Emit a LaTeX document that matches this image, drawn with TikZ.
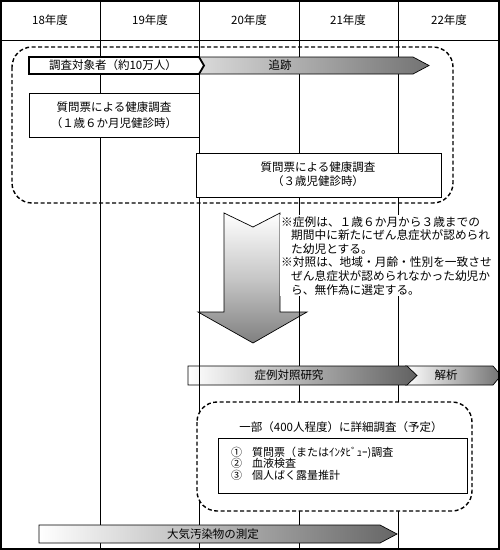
\documentclass[tikz,border=0pt]{standalone}
\usepackage{fontspec}
\setmainfont{Noto Sans CJK JP}
\begin{document}
\begin{tikzpicture}[x=1pt,y=-1pt,
  every node/.style={font=\fontsize{11.5}{14}\selectfont, inner sep=0pt},
  gridline/.style={line width=0.9pt},
  dashbox/.style={dash pattern=on 4pt off 2.5pt, line width=1.4pt, rounded corners=20pt},
  plainbox/.style={draw, line width=0.9pt, fill=white},
  arrowline/.style={draw=black, line width=0.7pt},
  notes/.style={font=\fontsize{11.7}{13.6}\selectfont, fill=white, inner sep=1pt, align=left, anchor=north west}
]
\useasboundingbox (0,0) rectangle (500,550);

% big down arrow
\path[top color=white, bottom color=black!50, middle color=black!22]
  (224,213) -- (253,227) -- (280,213) -- (280,312) -- (307,312) -- (253,343) -- (198,312) -- (224,312) -- cycle;
\draw[arrowline] (224,213) -- (253,227) -- (280,213) -- (280,312) -- (307,312) -- (253,343) -- (198,312) -- (224,312) -- cycle;

% grid
\foreach \gx in {100,199,299,398} \draw[gridline] (\gx,1) -- (\gx,549);
\draw[gridline] (1,40) -- (499,40);

\node (h18) at (50,20) {18年度};
\node (h19) at (150,20) {19年度};
\node (h20) at (249,20) {20年度};
\node (h21) at (348,20) {21年度};
\node (h22) at (449,20) {22年度};

% dashed box 1
\draw[dashbox] (12,47) rectangle (453,203);

% follow-up arrow
\path[left color=black!14, right color=black!55]
  (195,57) -- (413,57) -- (429,65.5) -- (413,74) -- (195,74) -- cycle;
\draw[arrowline] (195,57) -- (413,57) -- (429,65.5) -- (413,74) -- (195,74);
\node (trk) at (280,65.5) {追跡};

% subjects pentagon
\draw[line width=1.8pt, fill=white] (29,57) -- (199,57) -- (204,65.5) -- (199,74) -- (29,74) -- cycle;
\node (subj) at (113,65.5) {調査対象者（約10万人）};

% questionnaire boxes
\draw[plainbox] (29,93) rectangle (199,137);
\node[align=center, font=\fontsize{11.5}{16}\selectfont] (q1) at (114,115) {質問票による健康調査\\（１歳６か月児健診時）};
\draw[plainbox] (196,153) rectangle (441,197);
\node[align=center, font=\fontsize{11.5}{14.5}\selectfont] (q2) at (318,174) {質問票による健康調査\\（３歳児健診時）};

% notes
\node[notes] (notes) at (280,215) {※症例は、１歳６か月から３歳までの\\
\hspace*{10pt}期間中に新たにぜん息症状が認められ\\
\hspace*{10pt}た幼児とする。\\
※対照は、地域・月齢・性別を一致させ\\
\hspace*{10pt}ぜん息症状が認められなかった幼児か\\
\hspace*{10pt}ら、無作為に選定する。};

% analysis arrow
\path[left color=white, right color=black!55]
  (405,366) -- (493,366) -- (501,375.5) -- (493,385) -- (405,385) -- (417,375.5) -- cycle;
\draw[arrowline] (405,366) -- (493,366) -- (501,375.5) -- (493,385) -- (405,385);
\node (ana) at (446,375.5) {解析};

% case-control arrow
\path[left color=white, middle color=black!25, right color=black!62]
  (188,366) -- (407,366) -- (417,375.5) -- (407,385) -- (188,385) -- cycle;
\draw[arrowline] (188,366) -- (407,366) -- (417,375.5) -- (407,385) -- (188,385) -- cycle;
\node (cc) at (289,375.5) {症例対照研究};
\draw[gridline] (199,360) -- (199,392);

% detailed survey
\draw[dashbox, fill=white] (197,402) rectangle (472,511);
\node (det) at (341,427) {一部（400人程度）に詳細調査（予定）};
\draw[plainbox] (218,438) rectangle (467,493);
\node[anchor=west, align=left, font=\fontsize{11}{11.6}\selectfont] (items) at (231,463.5)
  {①\hspace{10pt}質問票（またはｲﾝﾀﾋﾞｭｰ)調査\\②\hspace{10pt}血液検査\\③\hspace{10pt}個人ばく露量推計};

% air pollutant arrow
\path[left color=white, middle color=black!25, right color=black!60]
  (39,525) -- (380,525) -- (397,534) -- (380,543) -- (39,543) -- cycle;
\draw[arrowline] (39,525) -- (380,525) -- (397,534) -- (380,543) -- (39,543) -- cycle;
\node (air) at (213,534) {大気汚染物の測定};

% frame
\draw[line width=2pt] (1,1) rectangle (499,549);
\end{tikzpicture}
\end{document}
